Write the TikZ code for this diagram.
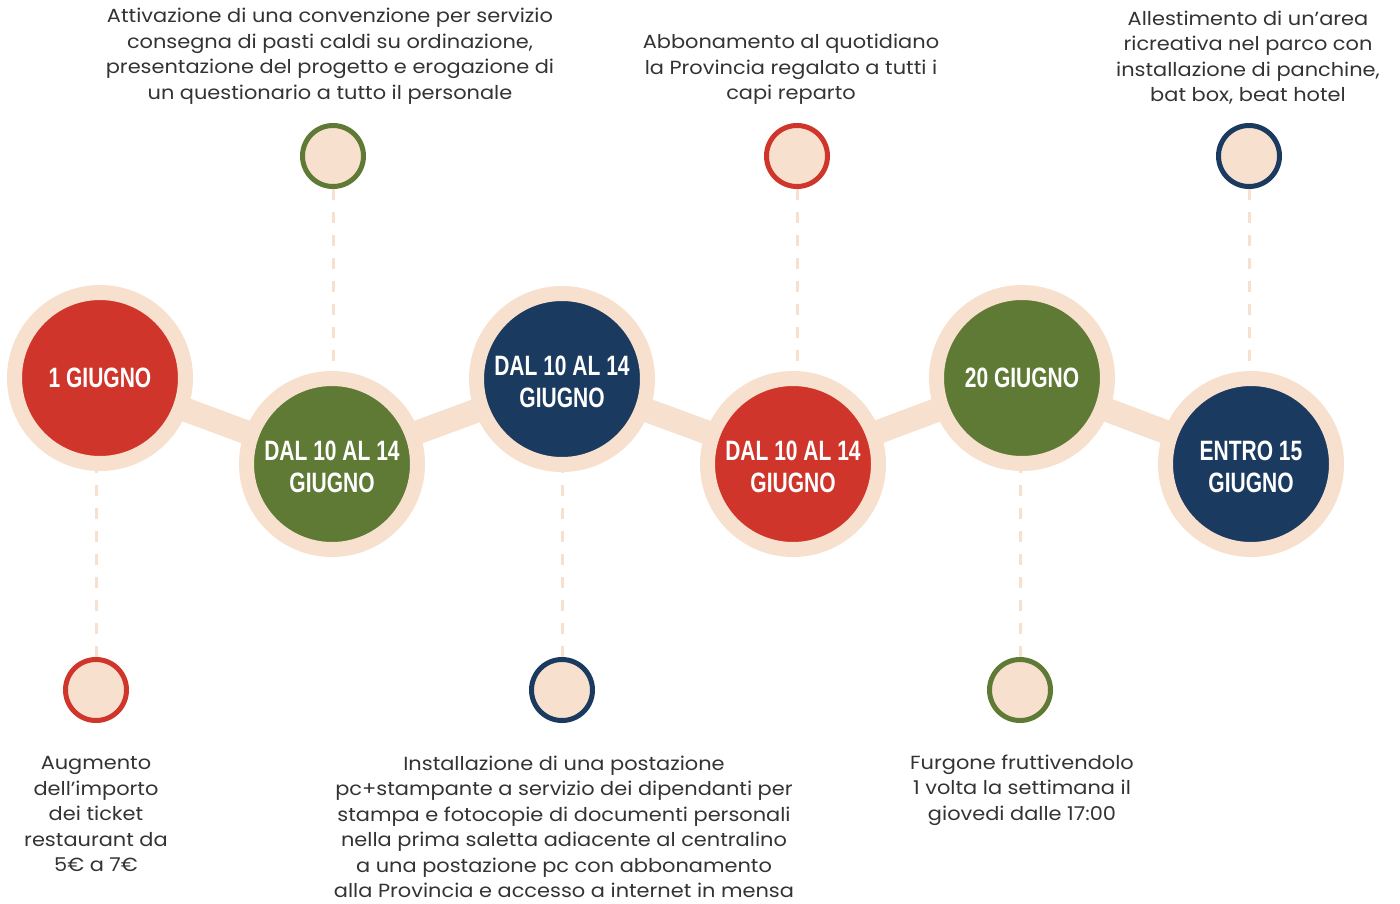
\documentclass[tikz,border=0pt]{standalone}
\usepackage{fontspec}
\setmainfont{Poppins}[FakeStretch=1.1]
\newfontfamily\labfont[FakeStretch=0.75]{Liberation Sans}
\definecolor{cred}{RGB}{208,53,43}
\definecolor{cgreen}{RGB}{95,122,53}
\definecolor{cnavy}{RGB}{27,58,95}
\definecolor{cpeach}{RGB}{247,224,206}
\definecolor{ctext}{RGB}{51,51,51}
\newcommand{\tallstrut}{\rule{0pt}{24.5pt}}
\begin{document}
\begin{tikzpicture}[x=1pt,y=-1pt,
  bigcirc/.style={circle,draw=cpeach,line width=15pt,minimum size=171pt,inner sep=0pt,
     text=white,align=center,font=\labfont\bfseries\fontsize{28}{32}\selectfont},
  smallcirc/.style={circle,fill=cpeach,line width=5pt,minimum size=61pt,inner sep=0pt},
  bar/.style={cpeach,line width=24pt},
  dashline/.style={cpeach,line width=3pt,dash pattern=on 11pt off 12pt},
  desc/.style={align=center,inner sep=0pt,text=ctext,font=\fontsize{19}{25.5}\selectfont}]
\useasboundingbox (0,0) rectangle (1400,903);
% coordinates for big circles
\coordinate (pA) at (100,378);
\coordinate (pB) at (332,464);
\coordinate (pC) at (562,379);
\coordinate (pD) at (793,464);
\coordinate (pE) at (1022,378);
\coordinate (pF) at (1251,464);
% small circles
\node[smallcirc,draw=cgreen] (sB) at (333,156) {};
\node[smallcirc,draw=cred] (sD) at (797,156) {};
\node[smallcirc,draw=cnavy] (sF) at (1249,156) {};
\node[smallcirc,draw=cred] (sA) at (96,690) {};
\node[smallcirc,draw=cnavy] (sC) at (562,690) {};
\node[smallcirc,draw=cgreen] (sE) at (1020,690) {};
% dashed connectors
\draw[dashline] (sB.south) -- (sB |- pB);
\draw[dashline] (sD.south) -- (sD |- pD);
\draw[dashline] (sF.south) -- (sF |- pF);
\draw[dashline] (sA.north) -- (sA |- pA);
\draw[dashline] (sC.north) -- (sC |- pC);
\draw[dashline] (sE.north) -- (sE |- pE);
% bars
\draw[bar] (pA) -- (pB) -- (pC) -- (pD) -- (pE) -- (pF);
% big circles
\node[bigcirc,fill=cred] (A) at (pA) {1 GIUGNO};
\node[bigcirc,fill=cgreen] (B) at (pB) {\tallstrut DAL 10 AL 14\\GIUGNO};
\node[bigcirc,fill=cnavy] (C) at (pC) {\tallstrut DAL 10 AL 14\\GIUGNO};
\node[bigcirc,fill=cred] (D) at (pD) {\tallstrut DAL 10 AL 14\\GIUGNO};
\node[bigcirc,fill=cgreen] (E) at (pE) {20 GIUGNO};
\node[bigcirc,fill=cnavy] (F) at (pF) {\tallstrut ENTRO 15\\GIUGNO};
% descriptions
\node[desc] (tB) at (330,56) {Attivazione di una convenzione per servizio\\consegna di pasti caldi su ordinazione,\\presentazione del progetto e erogazione di\\un questionario a tutto il personale};
\node[desc] (tD) at (791,69.5) {Abbonamento al quotidiano\\la Provincia regalato a tutti i\\capi reparto};
\node[desc] (tF) at (1248,57.5) {Allestimento di un’area\\ricreativa nel parco con\\installazione di panchine,\\bat box, beat hotel};
\node[desc] (tA) at (96,814) {Augmento\\dell’importo\\dei ticket\\restaurant da\\5€ a 7€};
\node[desc] (tC) at (564,827) {Installazione di una postazione\\pc+stampante a servizio dei dipendanti per\\stampa e fotocopie di documenti personali\\nella prima saletta adiacente al centralino\\a una postazione pc con abbonamento\\alla Provincia e accesso a internet in mensa};
\node[desc] (tE) at (1022,790) {Furgone fruttivendolo\\1 volta la settimana il\\giovedi dalle 17:00};
\end{tikzpicture}
\end{document}
